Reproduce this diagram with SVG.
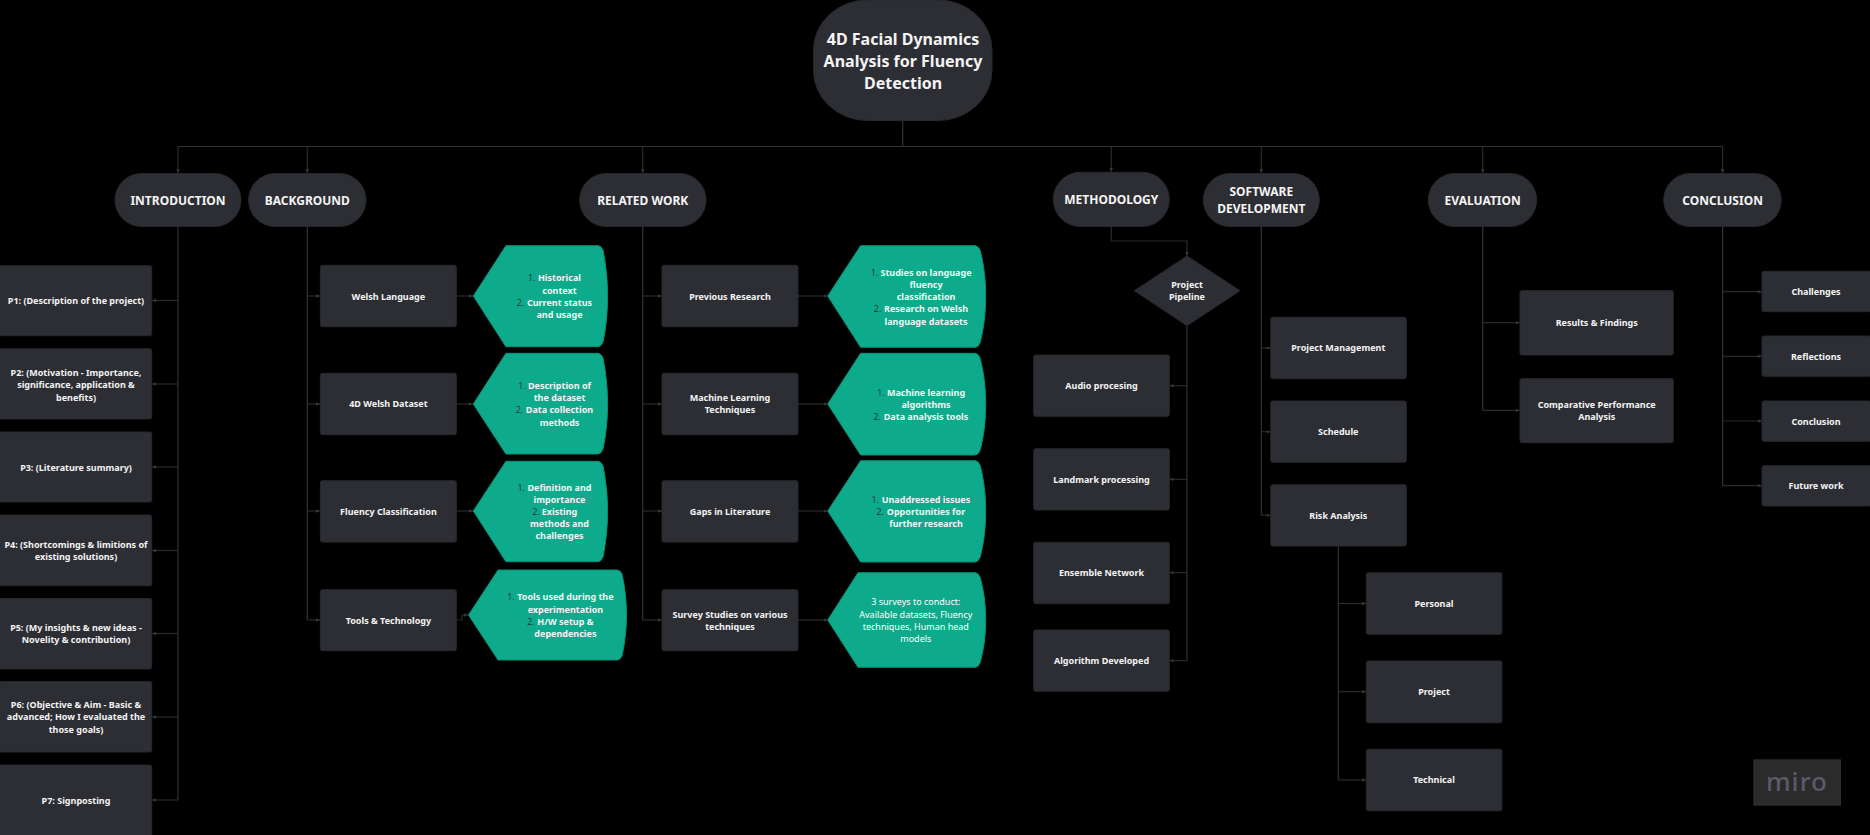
<svg xmlns="http://www.w3.org/2000/svg" width="1870" height="835" viewBox="0 0 1870 835">
<style>
.b{fill:#2d2e33;stroke:#27282c;stroke-width:1}
.g{fill:#0dab8b;stroke:#0b8f75;stroke-width:1}
text{font-family:"Noto Sans","Open Sans","Liberation Sans",sans-serif;fill:#f4f4f4;text-anchor:middle}
.t{font-size:9px;font-weight:700}
.h{font-size:12px;font-weight:700}
.r{font-size:16px;font-weight:700}
.m{font-size:9px;fill:#2f3a38}
.s{font-size:9px;font-weight:400;fill:#fff}
.c{fill:none;stroke:#2a2b2f;stroke-width:1.2;marker-end:url(#a)}
.d{fill:none;stroke:#313236;stroke-width:1.2}
</style>
<defs><marker id="a" viewBox="0 0 6 6" refX="6" refY="3" markerWidth="4" markerHeight="4" markerUnits="userSpaceOnUse" orient="auto"><path d="M0,0.5L6,3L0,5.5z" fill="#36373b"/></marker></defs>
<rect width="1870" height="835" fill="#000"/>
<g id="connectors">
<path class="d" d="M902.7,120.5V146.5M178,146.5H1722.6" stroke-width="1.5"/>
<path class="c" d="M178,146.5V173"/><path class="c" d="M307.3,146.5V173"/><path class="c" d="M642.7,146.5V173"/><path class="c" d="M1111.3,146.5V172"/><path class="c" d="M1261.3,146.5V173"/><path class="c" d="M1482.7,146.5V173"/><path class="c" d="M1722.6,146.5V173"/>
<path class="d" d="M178,226.5V800"/>
<path class="c" d="M178,300.5H152"/><path class="c" d="M178,384H152"/><path class="c" d="M178,467H152"/><path class="c" d="M178,550.5H152"/><path class="c" d="M178,633.5H152"/><path class="c" d="M178,717H152"/><path class="c" d="M178,800H152"/>
<path class="d" d="M307.3,226.5V620"/>
<path class="c" d="M307.3,296H320"/><path class="c" d="M307.3,404H320"/><path class="c" d="M307.3,511H320"/><path class="c" d="M307.3,620H320"/>
<path class="c" d="M456.3,296H473"/><path class="c" d="M456.3,404H473"/><path class="c" d="M456.3,511H473"/><path class="c" d="M456.3,620H462V615H468"/>
<path class="d" d="M642.7,226.5V620"/>
<path class="c" d="M642.7,296H662"/><path class="c" d="M642.7,404H662"/><path class="c" d="M642.7,511H662"/><path class="c" d="M642.7,620H662"/>
<path class="c" d="M798,296H827.5"/><path class="c" d="M798,404H827.5"/><path class="c" d="M798,511H827.5"/><path class="c" d="M798,620H827.5"/>
<path class="c" d="M1111.3,226.5V241H1187V256"/>
<path class="d" d="M1187,325.7V660.7"/>
<path class="c" d="M1187,385.7H1169.5"/><path class="c" d="M1187,479.3H1169.5"/><path class="c" d="M1187,572.7H1169.5"/><path class="c" d="M1187,660.7H1169.5"/>
<path class="d" d="M1261.3,226.5V515.3"/>
<path class="c" d="M1261.3,348H1270.5"/><path class="c" d="M1261.3,431.7H1270.5"/><path class="c" d="M1261.3,515.3H1270.5"/>
<path class="d" d="M1338.3,546V780"/>
<path class="c" d="M1338.3,603.5H1366"/><path class="c" d="M1338.3,691.7H1366"/><path class="c" d="M1338.3,780H1366"/>
<path class="d" d="M1482.7,226.5V410.3"/>
<path class="c" d="M1482.7,322.7H1520"/><path class="c" d="M1482.7,410.3H1520"/>
<path class="d" d="M1722.6,226.5V485.7"/>
<path class="c" d="M1722.6,291.7H1762"/><path class="c" d="M1722.6,356.3H1762"/><path class="c" d="M1722.6,421H1762"/><path class="c" d="M1722.6,485.7H1762"/>
</g>
<g id="root"><rect class="b" x="813.5" y="0" width="178.5" height="120.5" rx="54" ry="50"/><text class="r" x="903" y="45">4D Facial Dynamics</text><text class="r" x="903" y="67">Analysis for Fluency</text><text class="r" x="903" y="88.5">Detection</text></g>
<g id="introduction"><rect class="b" x="115" y="173.5" width="126" height="53" rx="26.5"/><text class="h" x="178" y="205">INTRODUCTION</text></g>
<g id="background"><rect class="b" x="248.6" y="173.5" width="117.4" height="53" rx="26.5"/><text class="h" x="307.3" y="205">BACKGROUND</text></g>
<g id="related-work"><rect class="b" x="579.6" y="173.5" width="126.4" height="53" rx="26.5"/><text class="h" x="642.7" y="205">RELATED WORK</text></g>
<g id="methodology"><rect class="b" x="1053.3" y="172.3" width="116" height="54.2" rx="27"/><text class="h" x="1111.3" y="204">METHODOLOGY</text></g>
<g id="software-development"><rect class="b" x="1203.3" y="173.5" width="116" height="53" rx="26.5"/><text class="h" x="1261.3" y="196">SOFTWARE</text><text class="h" x="1261.3" y="213">DEVELOPMENT</text></g>
<g id="evaluation"><rect class="b" x="1428.3" y="173.5" width="108.4" height="53" rx="26.5"/><text class="h" x="1482.7" y="205">EVALUATION</text></g>
<g id="conclusion"><rect class="b" x="1663.7" y="173.5" width="117.6" height="53" rx="26.5"/><text class="h" x="1722.6" y="205">CONCLUSION</text></g>
<g id="p1"><rect class="b" x="-1" y="265.7" width="152.7" height="70" rx="2"/><text class="t" x="76" y="304">P1: (Description of the project)</text></g>
<g id="p2"><rect class="b" x="-1" y="348.7" width="152.7" height="70.3" rx="2"/><text class="t" x="76" y="375.5">P2: (Motivation - Importance,</text><text class="t" x="76" y="387.5">significance, application &amp;</text><text class="t" x="76" y="400.5">benefits)</text></g>
<g id="p3"><rect class="b" x="-1" y="432" width="152.7" height="70" rx="2"/><text class="t" x="76" y="471">P3: (Literature summary)</text></g>
<g id="p4"><rect class="b" x="-1" y="515" width="152.7" height="70.7" rx="2"/><text class="t" x="76" y="548">P4: (Shortcomings &amp; limitions of</text><text class="t" x="76" y="560">existing solutions)</text></g>
<g id="p5"><rect class="b" x="-1" y="598.5" width="152.7" height="70.5" rx="2"/><text class="t" x="76" y="631">P5: (My insights &amp; new ideas -</text><text class="t" x="76" y="643">Novelity &amp; contribution)</text></g>
<g id="p6"><rect class="b" x="-1" y="681.5" width="152.7" height="70.5" rx="2"/><text class="t" x="76" y="708">P6: (Objective &amp; Aim - Basic &amp;</text><text class="t" x="76" y="720">advanced; How I evaluated the</text><text class="t" x="76" y="733">those goals)</text></g>
<g id="p7"><rect class="b" x="-1" y="765" width="152.7" height="72" rx="2"/><text class="t" x="76" y="803.5">P7: Signposting</text></g>
<g id="welsh-language"><rect class="b" x="320.4" y="265.3" width="136" height="61.4" rx="2"/><text class="t" x="388.4" y="300">Welsh Language</text></g>
<g id="dataset"><rect class="b" x="320.4" y="373.3" width="136" height="61.4" rx="2"/><text class="t" x="388.4" y="407">4D Welsh Dataset</text></g>
<g id="fluency"><rect class="b" x="320.4" y="480.7" width="136" height="61.4" rx="2"/><text class="t" x="388.4" y="514.5">Fluency Classification</text></g>
<g id="tools"><rect class="b" x="320.4" y="589.7" width="136" height="61" rx="2"/><text class="t" x="388.4" y="623.5">Tools &amp; Technology</text></g>
<g id="g1"><path class="g" d="M473.3,296L505.9,245.7H598Q601,245.7 603,250C606,265 607.6,280 607.6,296C607.6,312 606,328 603,342Q601,346.7 598,346.7H505.9Z"/><text class="m" x="535.5" y="281" style="text-anchor:end">1.</text><text class="t" x="559.5" y="281">Historical</text><text class="t" x="559.5" y="294">context</text><text class="m" x="524.4" y="306" style="text-anchor:end">2.</text><text class="t" x="559.5" y="306">Current status</text><text class="t" x="559.5" y="318">and usage</text></g>
<g id="g2"><path class="g" d="M473.3,404L505.9,353.3H598Q601,353.3 603,358C606,373 607.6,388 607.6,404C607.6,420 606,435 603,449Q601,454 598,454H505.9Z"/><text class="m" x="525.8" y="389" style="text-anchor:end">1.</text><text class="t" x="559.5" y="389">Description of</text><text class="t" x="559.5" y="401">the dataset</text><text class="m" x="523.2" y="413" style="text-anchor:end">2.</text><text class="t" x="559.5" y="413">Data collection</text><text class="t" x="559.5" y="426">methods</text></g>
<g id="g3"><path class="g" d="M473.3,511L505.9,461.3H598Q601,461.3 603,466C606,481 607.6,496 607.6,511C607.6,527 606,542 603,557Q601,561.7 598,561.7H505.9Z"/><text class="m" x="525" y="491" style="text-anchor:end">1.</text><text class="t" x="559.5" y="491">Definition and</text><text class="t" x="559.5" y="503">importance</text><text class="m" x="540" y="515" style="text-anchor:end">2.</text><text class="t" x="559.5" y="515">Existing</text><text class="t" x="559.5" y="527">methods and</text><text class="t" x="559.5" y="539">challenges</text></g>
<g id="g4"><path class="g" d="M468.5,615L498,570H617Q620,570 622,574C625,588 626.5,601 626.5,615C626.5,629 625,642 622,656Q620,660 617,660H498Z"/><text class="m" x="514.7" y="600" style="text-anchor:end">1.</text><text class="t" x="565.4" y="600">Tools used during the</text><text class="t" x="565.4" y="613">experimentation</text><text class="m" x="534.7" y="625" style="text-anchor:end">2.</text><text class="t" x="565.4" y="625">H/W setup &amp;</text><text class="t" x="565.4" y="637">dependencies</text></g>
<g id="previous-research"><rect class="b" x="662" y="265.3" width="136" height="61.4" rx="2"/><text class="t" x="730" y="300">Previous Research</text></g>
<g id="ml"><rect class="b" x="662" y="373.3" width="136" height="61.4" rx="2"/><text class="t" x="730" y="401">Machine Learning</text><text class="t" x="730" y="413">Techniques</text></g>
<g id="gaps"><rect class="b" x="662" y="480.7" width="136" height="61.4" rx="2"/><text class="t" x="730" y="514.5">Gaps in Literature</text></g>
<g id="survey"><rect class="b" x="662" y="589.7" width="136" height="61" rx="2"/><text class="t" x="730" y="618">Survey Studies on various</text><text class="t" x="730" y="630">techniques</text></g>
<g id="g5"><path class="g" d="M827.7,296L860.6,245.7H975Q978,245.7 980,250C984,265 985.7,280 985.7,296C985.7,312 984,328 980,343Q978,347.3 975,347.3H860.6Z"/><text class="m" x="878.4" y="276" style="text-anchor:end">1.</text><text class="t" x="926" y="276">Studies on language</text><text class="t" x="926" y="288">fluency</text><text class="t" x="926" y="300">classification</text><text class="m" x="881.4" y="312" style="text-anchor:end">2.</text><text class="t" x="926" y="312">Research on Welsh</text><text class="t" x="926" y="325">language datasets</text></g>
<g id="g6"><path class="g" d="M827.7,404L860.6,353.3H975Q978,353.3 980,358C984,373 985.7,388 985.7,404C985.7,420 984,436 980,450.5Q978,455 975,455H860.6Z"/><text class="m" x="884.7" y="396" style="text-anchor:end">1.</text><text class="t" x="926" y="396">Machine learning</text><text class="t" x="926" y="408">algorithms</text><text class="m" x="881" y="420" style="text-anchor:end">2.</text><text class="t" x="926" y="420">Data analysis tools</text></g>
<g id="g7"><path class="g" d="M827.7,511L860.6,460.7H975Q978,460.7 980,465C984,480 985.7,495 985.7,511C985.7,527 984,543 980,557.5Q978,562 975,562H860.6Z"/><text class="m" x="879" y="503" style="text-anchor:end">1.</text><text class="t" x="926" y="503">Unaddressed issues</text><text class="m" x="884" y="515" style="text-anchor:end">2.</text><text class="t" x="926" y="515">Opportunities for</text><text class="t" x="926" y="527">further research</text></g>
<g id="g8"><path class="g" d="M827.7,620L858,572.7H975Q978,572.7 980,577C984,591 985.7,605 985.7,620C985.7,635 984,649 980,663Q978,667.3 975,667.3H858Z"/><text class="s" x="915.8" y="605">3 surveys to conduct:</text><text class="s" x="915.8" y="618">Available datasets, Fluency</text><text class="s" x="915.8" y="630">techniques, Human head</text><text class="s" x="915.8" y="642">models</text></g>
<g id="pipeline"><path class="b" d="M1187,256L1240,290.7L1187,325.7L1134.3,290.7Z"/><text class="t" x="1187" y="288">Project</text><text class="t" x="1187" y="300">Pipeline</text></g>
<g id="audio"><rect class="b" x="1033.7" y="355" width="135.7" height="61.3" rx="2"/><text class="t" x="1101.5" y="389">Audio procesing</text></g>
<g id="landmark"><rect class="b" x="1033.7" y="448.7" width="135.7" height="61.3" rx="2"/><text class="t" x="1101.5" y="483">Landmark processing</text></g>
<g id="ensemble"><rect class="b" x="1033.7" y="542.3" width="135.7" height="61.4" rx="2"/><text class="t" x="1101.5" y="576">Ensemble Network</text></g>
<g id="algorithm"><rect class="b" x="1033.7" y="630" width="135.7" height="61.3" rx="2"/><text class="t" x="1101.5" y="664">Algorithm Developed</text></g>
<g id="pm"><rect class="b" x="1270.7" y="317.3" width="135.6" height="61.4" rx="2"/><text class="t" x="1338.3" y="350.5">Project Management</text></g>
<g id="schedule"><rect class="b" x="1270.7" y="401" width="135.6" height="61.3" rx="2"/><text class="t" x="1338.3" y="434.5">Schedule</text></g>
<g id="risk"><rect class="b" x="1270.7" y="484.7" width="135.6" height="61.3" rx="2"/><text class="t" x="1338.3" y="519">Risk Analysis</text></g>
<g id="personal"><rect class="b" x="1366.3" y="572.7" width="135.6" height="61.6" rx="2"/><text class="t" x="1434" y="607">Personal</text></g>
<g id="project"><rect class="b" x="1366.3" y="661" width="135.6" height="61.7" rx="2"/><text class="t" x="1434" y="695">Project</text></g>
<g id="technical"><rect class="b" x="1366.3" y="749.3" width="135.6" height="61.4" rx="2"/><text class="t" x="1434" y="783">Technical</text></g>
<g id="results"><rect class="b" x="1520" y="290.7" width="153.3" height="64.3" rx="2"/><text class="t" x="1596.7" y="325.5">Results &amp; Findings</text></g>
<g id="comparative"><rect class="b" x="1520" y="378.7" width="153.3" height="64" rx="2"/><text class="t" x="1596.7" y="408">Comparative Performance</text><text class="t" x="1596.7" y="420">Analysis</text></g>
<g id="challenges"><rect class="b" x="1762" y="271.3" width="109" height="40.4" rx="2"/><text class="t" x="1816" y="295">Challenges</text></g>
<g id="reflections"><rect class="b" x="1762" y="336" width="109" height="40.3" rx="2"/><text class="t" x="1816" y="360">Reflections</text></g>
<g id="conclusion-item"><rect class="b" x="1762" y="401" width="109" height="40.3" rx="2"/><text class="t" x="1816" y="425">Conclusion</text></g>
<g id="future"><rect class="b" x="1762" y="465.7" width="109" height="40.3" rx="2"/><text class="t" x="1816" y="489">Future work</text></g>
<g id="miro"><rect x="1753.3" y="759.3" width="87.7" height="46.4" fill="#2b2b2b"/><text x="1797" y="791" style="font-size:26px;font-weight:500;fill:#5b5a68;letter-spacing:1px">miro</text></g>
</svg>
